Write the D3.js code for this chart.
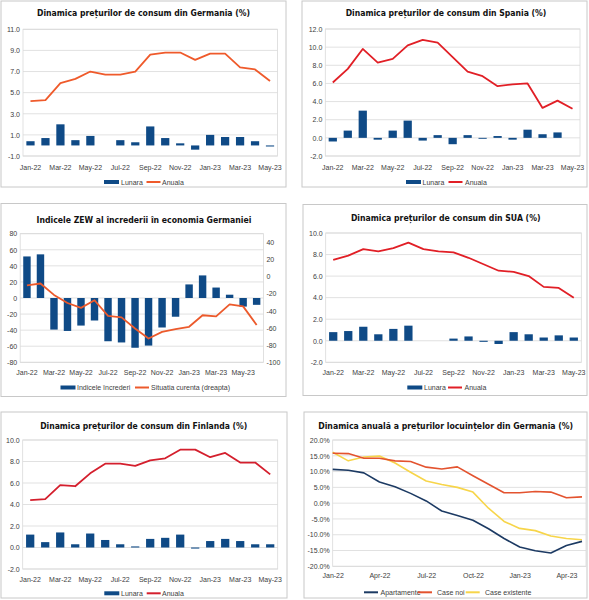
<!DOCTYPE html>
<html>
<head>
<meta charset="utf-8">
<script src="https://cdn.jsdelivr.net/npm/d3@7"></script>
<style>
  body { margin: 0; background: #fff; }
  svg { display: block; }
  text { font-family: "Liberation Sans", Arial, sans-serif; }
</style>
</head>
<body>
<svg id="chart" width="589" height="600"></svg>
<script>
// months on the category axes
const months = ["Jan-22","Feb-22","Mar-22","Apr-22","May-22","Jun-22","Jul-22","Aug-22","Sep-22",
  "Oct-22","Nov-22","Dec-22","Jan-23","Feb-23","Mar-23","Apr-23","May-23"];
const monthsZew = months.concat(["Jun-23"]);
const shownMonths = ["Jan-22","Mar-22","May-22","Jul-22","Sep-22","Nov-22","Jan-23","Mar-23","May-23"];
const shownQuarters = ["Jan-22","Apr-22","Jul-22","Oct-22","Jan-23","Apr-23"];

// Germany CPI
const deLunara = [0.4, 0.7, 2.0, 0.5, 0.9, 0.0, 0.5, 0.3, 1.8, 0.7, 0.2, -0.4, 1.0, 0.8, 0.8, 0.4, -0.1];
const deAnuala = [4.2, 4.3, 5.9, 6.3, 7.0, 6.7, 6.7, 7.0, 8.6, 8.8, 8.8, 8.1, 8.7, 8.7, 7.4, 7.2, 6.1];
const deTicks = [-1, 1, 3, 5, 7, 9, 11];

// Spain CPI
const esLunara = [-0.4, 0.8, 3.0, -0.2, 0.8, 1.9, -0.3, 0.3, -0.7, 0.3, -0.1, 0.2, -0.2, 0.9, 0.4, 0.6, 0.0];
const esAnuala = [6.1, 7.6, 9.8, 8.3, 8.7, 10.2, 10.8, 10.5, 8.9, 7.3, 6.8, 5.7, 5.9, 6.0, 3.3, 4.1, 3.2];
const esTicks = [-2, 0, 2, 4, 6, 8, 10, 12];

// ZEW
const zewIndex = [51.7, 54.3, -39.3, -41.0, -34.3, -28.0, -53.8, -55.3, -61.9, -59.2, -36.7, -23.3,
  16.9, 28.1, 13.0, 4.1, -10.7, -8.5];
const zewCurrent = [-10.2, -8.1, -21.4, -30.8, -36.5, -27.6, -45.8, -47.6, -60.5, -72.2, -64.5, -61.4,
  -58.6, -45.1, -46.5, -32.5, -34.8, -56.5];
const zewLeftTicks = [-80, -60, -40, -20, 0, 20, 40, 60, 80];
const zewRightTicks = [-100, -80, -60, -40, -20, 0, 20, 40];

// USA CPI
const usLunara = [0.8, 0.9, 1.3, 0.6, 1.1, 1.4, 0.0, 0.0, 0.2, 0.4, -0.1, -0.3, 0.8, 0.6, 0.3, 0.5, 0.3];
const usAnuala = [7.5, 7.9, 8.5, 8.3, 8.6, 9.1, 8.5, 8.3, 8.2, 7.7, 7.1, 6.5, 6.4, 6.0, 5.0, 4.9, 4.0];
const usTicks = [-2, 0, 2, 4, 6, 8, 10];

// Finland CPI
const fiLunara = [1.2, 0.5, 1.4, 0.3, 1.3, 0.7, 0.3, 0.1, 0.8, 0.9, 1.2, -0.1, 0.6, 0.8, 0.6, 0.3, 0.3];
const fiAnuala = [4.4, 4.5, 5.8, 5.7, 6.9, 7.8, 7.8, 7.6, 8.1, 8.3, 9.1, 9.1, 8.4, 8.8, 7.9, 7.9, 6.8];
const fiTicks = [-2, 0, 2, 4, 6, 8, 10];

// German housing prices, annual change
const hsApart = [10.7, 10.4, 9.6, 6.7, 5.2, 3.1, 0.7, -2.5, -3.9, -5.4, -8.1, -11.2, -13.9, -15.1, -15.8, -13.4, -12.1];
const hsNoi = [15.8, 15.7, 14.2, 14.2, 13.4, 13.2, 11.4, 10.8, 11.5, 8.7, 6.0, 3.3, 3.3, 3.7, 3.5, 1.7, 2.0];
const hsExist = [16.1, 13.4, 14.6, 14.9, 12.7, 9.8, 7.0, 5.9, 5.0, 3.5, -1.6, -5.8, -8.0, -8.7, -10.4, -11.2, -11.6];
const hsTicks = [-20, -15, -10, -5, 0, 5, 10, 15, 20];

const navy = "#0f4a86";
const grid = "#d9d9d9";
const labelColor = "#404040";

const svg = d3.select("#chart");

const frame = (p) => {
  const g = svg.append("g");
  g.append("rect")
    .attr("x", p.box[0]).attr("y", p.box[1])
    .attr("width", p.box[2]).attr("height", p.box[3])
    .attr("fill", "#fff").attr("stroke", "#c8c8c8").attr("stroke-width", 1);
  const t = g.append("text")
    .attr("x", p.title[0]).attr("y", p.title[1])
    .attr("text-anchor", "middle")
    .style("font-family", '"Liberation Sans Narrow", "Arial Narrow", "DejaVu Sans Condensed", sans-serif')
    .style("font-weight", "bold").style("font-size", "11px").attr("fill", "#111")
    .text(p.text);
  // fit the title to the width it has in the picture
  const w = t.node().getComputedTextLength();
  t.style("font-size", (11 * p.title[2] / w).toFixed(2) + "px");
  return g;
};

const gridAndFrame = (g, p, y, ticks) => {
  g.append("g").selectAll("line").data(ticks).join("line")
    .attr("x1", p.x0).attr("x2", p.x1)
    .attr("y1", (d) => y(d)).attr("y2", (d) => y(d))
    .attr("stroke", grid).attr("stroke-width", 0.8);
  g.append("rect")
    .attr("x", p.x0).attr("y", p.y0)
    .attr("width", p.x1 - p.x0).attr("height", p.y1 - p.y0)
    .attr("fill", "none").attr("stroke", grid).attr("stroke-width", 0.8);
};

const styleAxis = (a, anchor) => {
  a.select(".domain").remove();
  a.selectAll("text").attr("fill", labelColor).style("font-size", "7px")
    .style("font-family", '"Liberation Sans", Arial, sans-serif');
  if (anchor) a.selectAll("text").attr("text-anchor", anchor);
};

const legend = (g, items, ly) => {
  items.forEach((it) => {
    if (it.kind === "bar") {
      g.append("rect").attr("x", it.x).attr("y", ly - 2).attr("width", 15).attr("height", 4).attr("fill", it.color);
    } else {
      g.append("line").attr("x1", it.x).attr("x2", it.x + 14).attr("y1", ly).attr("y2", ly)
        .attr("stroke", it.color).attr("stroke-width", 2);
    }
    g.append("text").attr("x", it.tx).attr("y", ly + 2.5)
      .attr("fill", labelColor).style("font-size", "7px").text(it.label);
  });
};

const barLine = (p) => {
  const g = frame(p);
  const x = d3.scaleBand().domain(p.cats).range([p.x0, p.x1]).paddingInner(0.45).paddingOuter(0.225);
  const y = d3.scaleLinear().domain(p.yDomain).range([p.y1, p.y0]);
  const y2 = p.y2Domain ? d3.scaleLinear().domain(p.y2Domain).range([p.y1, p.y0]) : y;
  gridAndFrame(g, p, y, p.ticks);

  const ay = g.append("g").attr("transform", `translate(${p.x0},0)`)
    .call(d3.axisLeft(y).tickValues(p.ticks).tickSize(0).tickPadding(3).tickFormat(p.fmt));
  styleAxis(ay);
  if (p.y2Domain) {
    const ay2 = g.append("g").attr("transform", `translate(${p.x1},0)`)
      .call(d3.axisRight(y2).tickValues(p.ticks2).tickSize(0).tickPadding(3).tickFormat((d) => d));
    styleAxis(ay2);
  }
  const ax = g.append("g").attr("transform", `translate(0,${p.y1})`)
    .call(d3.axisBottom(x).tickValues(p.shown).tickSize(0).tickPadding(p.xPad));
  styleAxis(ax);

  g.append("g").selectAll("rect").data(p.bars).join("rect")
    .attr("x", (d, i) => x(p.cats[i]))
    .attr("width", x.bandwidth())
    .attr("y", (d) => y(Math.max(0, d)))
    .attr("height", (d) => Math.abs(y(d) - y(0)))
    .attr("fill", navy);

  const line = d3.line()
    .x((d, i) => x(p.cats[i]) + x.bandwidth() / 2)
    .y((d) => y2(d));
  g.append("path").datum(p.line).attr("d", line)
    .attr("fill", "none").attr("stroke", p.lineColor).attr("stroke-width", 1.8)
    .attr("stroke-linejoin", "round");

  legend(g, p.legend, p.legendY);
};

const oneDec = (d) => d.toFixed(1);

barLine({
  box: [1, 1, 285, 186], title: [143.5, 16, 213], text: "Dinamica prețurilor de consum din Germania (%)",
  x0: 23, x1: 277.5, y0: 29.3, y1: 156, cats: months, shown: shownMonths, xPad: 9,
  yDomain: [-1, 11], ticks: deTicks, fmt: oneDec, bars: deLunara, line: deAnuala, lineColor: "#ef5a2b",
  legendY: 182, legend: [
    { kind: "bar", x: 104, tx: 121, color: navy, label: "Lunara" },
    { kind: "line", x: 146.5, tx: 162, color: "#ef5a2b", label: "Anuala" }]
});

barLine({
  box: [302, 1, 285, 186], title: [446, 16, 201], text: "Dinamica prețurilor de consum din Spania (%)",
  x0: 325.3, x1: 580, y0: 29, y1: 156, cats: months, shown: shownMonths, xPad: 9,
  yDomain: [-2, 12], ticks: esTicks, fmt: oneDec, bars: esLunara, line: esAnuala, lineColor: "#e11f26",
  legendY: 182, legend: [
    { kind: "bar", x: 406, tx: 422.5, color: navy, label: "Lunara" },
    { kind: "line", x: 448.5, tx: 465, color: "#e11f26", label: "Anuala" }]
});

barLine({
  box: [1, 203.5, 285, 193], title: [144, 223, 215.5], text: "Indicele ZEW al încrederii în economia Germaniei",
  x0: 20.2, x1: 263.4, y0: 233.7, y1: 362.3, cats: monthsZew, shown: shownMonths, xPad: 8,
  yDomain: [-80, 80], ticks: zewLeftTicks, fmt: (d) => d,
  y2Domain: [-100, 50], ticks2: zewRightTicks,
  bars: zewIndex, line: zewCurrent, lineColor: "#ec5a2c",
  legendY: 387.5, legend: [
    { kind: "bar", x: 60.5, tx: 77, color: navy, label: "Indicele încrederi" },
    { kind: "line", x: 135, tx: 151, color: "#ec5a2c", label: "Situatia curenta (dreapta)" }]
});

barLine({
  box: [303, 204.5, 284, 191], title: [445.7, 221, 190], text: "Dinamica prețurilor de consum din SUA (%)",
  x0: 325.7, x1: 581.3, y0: 233, y1: 362.3, cats: months, shown: shownMonths, xPad: 8,
  yDomain: [-2, 10], ticks: usTicks, fmt: oneDec, bars: usLunara, line: usAnuala, lineColor: "#e11f26",
  legendY: 387.5, legend: [
    { kind: "bar", x: 407.3, tx: 424, color: navy, label: "Lunara" },
    { kind: "line", x: 448, tx: 464.5, color: "#e11f26", label: "Anuala" }]
});

barLine({
  box: [1, 412, 286, 186], title: [143.7, 429, 207.3], text: "Dinamica prețurilor de consum din Finlanda (%)",
  x0: 22.7, x1: 277.7, y0: 440, y1: 569, cats: months, shown: shownMonths, xPad: 8,
  yDomain: [-2, 10], ticks: fiTicks, fmt: oneDec, bars: fiLunara, line: fiAnuala, lineColor: "#d41f2d",
  legendY: 593.3, legend: [
    { kind: "bar", x: 104.3, tx: 121, color: navy, label: "Lunara" },
    { kind: "line", x: 146.7, tx: 162, color: "#d41f2d", label: "Anuala" }]
});

// housing panel: three lines on a monthly point scale
(() => {
  const p = {
    box: [304, 412, 283, 186], title: [445.7, 429, 255.3],
    text: "Dinamica anuală a prețurilor locuințelor din Germania (%)",
    x0: 332.7, x1: 586, y0: 440, y1: 566.3
  };
  const g = frame(p);
  const x = d3.scalePoint().domain(months).range([332.7, 582]);
  const y = d3.scaleLinear().domain([-20, 20]).range([p.y1, p.y0]);
  gridAndFrame(g, p, y, hsTicks);
  const ay = g.append("g").attr("transform", `translate(${p.x0},0)`)
    .call(d3.axisLeft(y).tickValues(hsTicks).tickSize(0).tickPadding(3).tickFormat((d) => d.toFixed(1) + "%"));
  styleAxis(ay);
  const ax = g.append("g").attr("transform", `translate(0,${p.y1})`)
    .call(d3.axisBottom(x).tickValues(shownQuarters).tickSize(0).tickPadding(7));
  styleAxis(ax);

  const series = [
    { values: hsExist, color: "#f7d54a", label: "Case existente", lx: 465.7, tx: 485 },
    { values: hsNoi, color: "#e3532f", label: "Case noi", lx: 418, tx: 437 },
    { values: hsApart, color: "#1c3a63", label: "Apartamente", lx: 364, tx: 380.5 }
  ];
  const line = d3.line().x((d, i) => x(months[i])).y((d) => y(d));
  series.forEach((s) => {
    g.append("path").datum(s.values).attr("d", line)
      .attr("fill", "none").attr("stroke", s.color).attr("stroke-width", 1.6)
      .attr("stroke-linejoin", "round");
  });
  legend(g, series.slice().reverse().map((s) => ({ kind: "line", x: s.lx, tx: s.tx, color: s.color, label: s.label })), 592.3);
})();
</script>
</body>
</html>
